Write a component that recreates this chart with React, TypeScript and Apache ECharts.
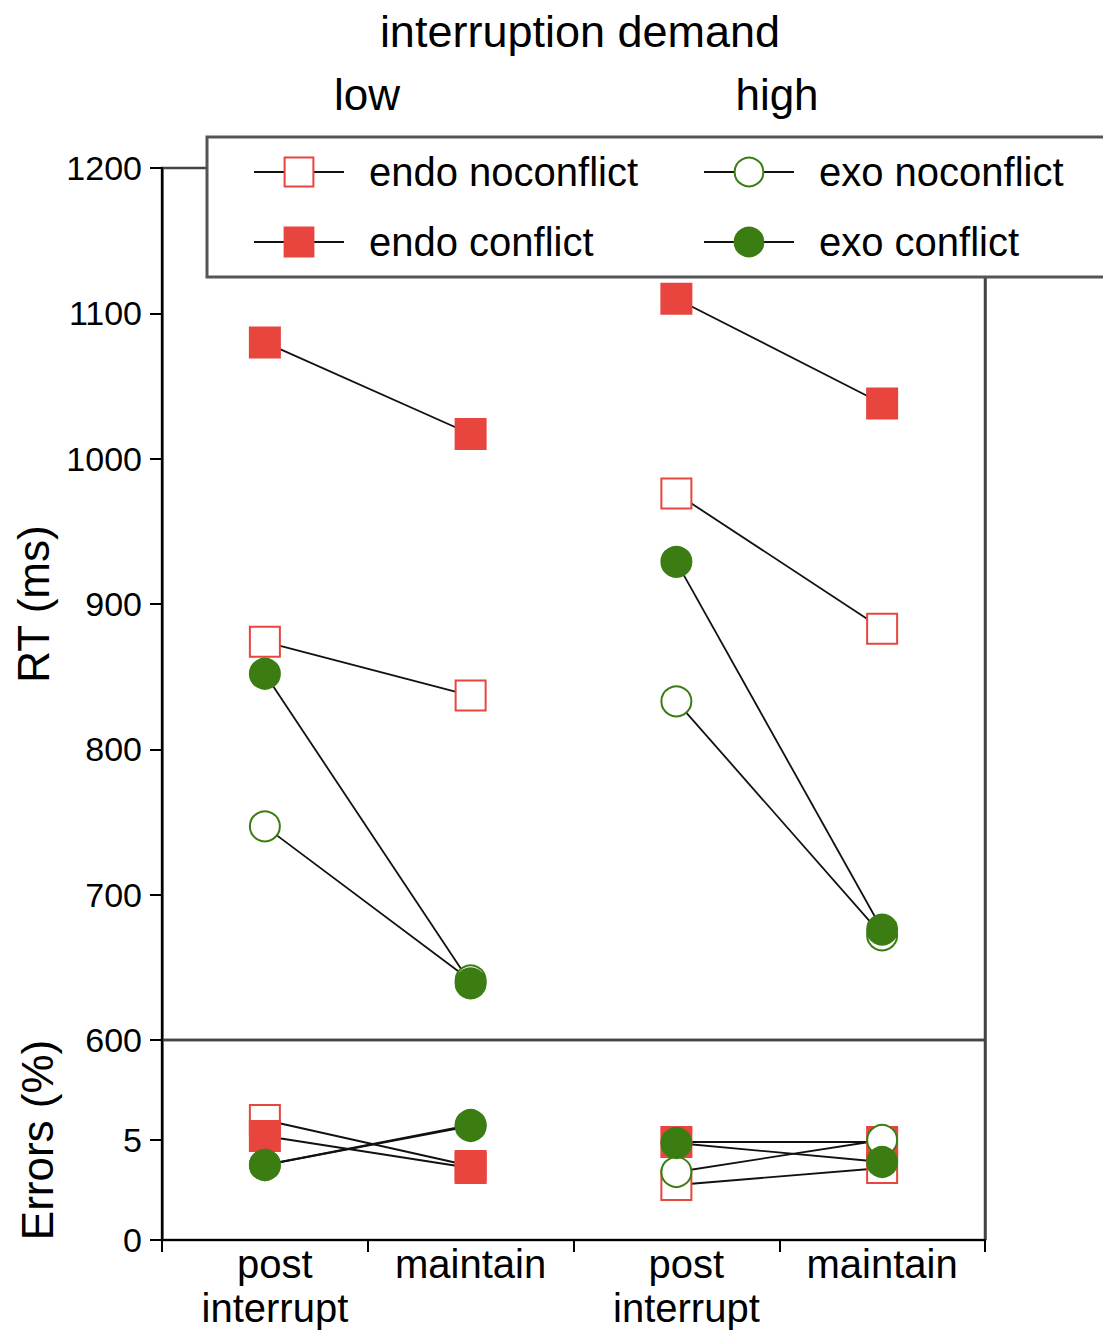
import React, { useEffect, useRef } from "react";
import * as echarts from "echarts";

const categories = ["post\ninterrupt", "maintain", "post\ninterrupt", "maintain"];
const panels = ["low", "high"];
const conditions = ["endo noconflict", "endo conflict", "exo noconflict", "exo conflict"];

// values: [low post, low maintain, high post, high maintain]
const rtEndoNoconflict = [874, 837, 976, 883];
const rtEndoConflict = [1080, 1017, 1110, 1038];
const rtExoNoconflict = [747, 641, 833, 672];
const rtExoConflict = [852, 639, 929, 676];

const errEndoNoconflict = [6.0, 3.7, 2.75, 3.6];
const errEndoConflict = [5.2, 3.6, 4.9, 4.9];
const errExoNoconflict = [3.75, 5.7, 3.4, 5.0];
const errExoConflict = [3.75, 5.75, 4.85, 3.9];

const rtTicks = { min: 600, max: 1200, interval: 100 };
const errTicks = { min: 0, max: 10, interval: 5 };

const RED = "#e8453f";
const GREEN = "#3b7d12";
const FONT = "'Liberation Sans', Arial, Helvetica, sans-serif";

const styles: Record<string, { symbol: string; color: string }> = {
  "endo noconflict": { symbol: "emptyRect", color: RED },
  "endo conflict": { symbol: "rect", color: RED },
  "exo noconflict": { symbol: "emptyCircle", color: GREEN },
  "exo conflict": { symbol: "circle", color: GREEN },
};

const rtData: Record<string, number[]> = {
  "endo noconflict": rtEndoNoconflict,
  "endo conflict": rtEndoConflict,
  "exo noconflict": rtExoNoconflict,
  "exo conflict": rtExoConflict,
};
const errData: Record<string, number[]> = {
  "endo noconflict": errEndoNoconflict,
  "endo conflict": errEndoConflict,
  "exo noconflict": errExoNoconflict,
  "exo conflict": errExoConflict,
};

function buildSeries(dataMap: Record<string, number[]>, axisIndex: number) {
  const out: any[] = [];
  panels.forEach((_, p) => {
    conditions.forEach((name) => {
      const vals = dataMap[name];
      const data = vals.map((v, i) => (Math.floor(i / 2) === p ? v : null));
      const st = styles[name];
      out.push({
        name,
        type: "line",
        xAxisIndex: axisIndex,
        yAxisIndex: axisIndex,
        data,
        connectNulls: false,
        symbol: st.symbol,
        symbolSize: 30,
        showAllSymbol: true,
        lineStyle: { color: "#111", width: 1.8 },
        itemStyle: { color: st.color, borderColor: st.color, borderWidth: 2 },
        emphasis: { disabled: true },
      });
    });
  });
  return out;
}

export default function App() {
  const ref = useRef<HTMLDivElement>(null);
  useEffect(() => {
    document.body.style.margin = "0";
    if (!ref.current) return;
    const chart = echarts.init(ref.current, undefined, { renderer: "svg" });
    const legendPos = [
      { name: "endo noconflict", left: 253, top: 152 },
      { name: "exo noconflict", left: 703, top: 152 },
      { name: "endo conflict", left: 253, top: 222 },
      { name: "exo conflict", left: 703, top: 222 },
    ];
    const catData = categories.map((c) =>
      c.indexOf("\n") >= 0 ? { value: c, textStyle: { padding: [0, 0, 0, 20] } } : c
    );
    const option: any = {
      animation: false,
      textStyle: { fontFamily: FONT, color: "#000" },
      grid: [
        { left: 162, top: 168, width: 823, height: 872, show: true, borderColor: "#444", borderWidth: 2.5, backgroundColor: "transparent", outerBoundsMode: "none", containLabel: false },
        { left: 162, top: 1040, width: 823, height: 200, show: true, borderColor: "#444", borderWidth: 2.5, backgroundColor: "transparent", outerBoundsMode: "none", containLabel: false },
      ],
      legend: legendPos.map((l) => ({
        data: [l.name],
        left: l.left,
        top: l.top,
        padding: 0,
        itemWidth: 90,
        itemHeight: 36,
        selectedMode: false,
        z: 200,
        textStyle: { fontSize: 40, fontFamily: FONT, color: "#000", padding: [0, 0, 0, 20] },
      })),
      xAxis: [
        {
          type: "category",
          gridIndex: 0,
          data: categories,
          boundaryGap: true,
          axisLine: { show: false },
          axisTick: { show: false },
          axisLabel: { show: false },
          splitLine: { show: true, interval: (i: number) => i === 2, lineStyle: { color: "#444", width: 2.5 } },
        },
        {
          type: "category",
          gridIndex: 1,
          data: catData,
          boundaryGap: true,
          axisLine: { show: true, lineStyle: { color: "#000", width: 2 } },
          axisTick: { show: true, length: 12, lineStyle: { color: "#000", width: 2 } },
          axisLabel: { show: true, interval: 0, fontSize: 40, lineHeight: 44, margin: 2, color: "#000", fontFamily: FONT },
          splitLine: { show: true, interval: (i: number) => i === 2, lineStyle: { color: "#444", width: 2.5 } },
        },
      ],
      yAxis: [
        {
          type: "value",
          gridIndex: 0,
          min: rtTicks.min,
          max: rtTicks.max,
          interval: rtTicks.interval,
          name: "RT (ms)",
          nameLocation: "middle",
          nameGap: 103,
          nameTextStyle: { fontSize: 44, color: "#000", fontFamily: FONT },
          axisLine: { show: true, lineStyle: { color: "#000", width: 2 } },
          axisTick: { show: true, length: 12, lineStyle: { color: "#000", width: 2 } },
          axisLabel: { fontSize: 34, color: "#000", margin: 20, fontFamily: FONT, formatter: (v: number) => String(v) },
          splitLine: { show: false },
        },
        {
          type: "value",
          gridIndex: 1,
          min: errTicks.min,
          max: errTicks.max,
          interval: errTicks.interval,
          name: "Errors (%)",
          nameLocation: "middle",
          nameGap: 103,
          nameTextStyle: { fontSize: 44, color: "#000", fontFamily: FONT },
          axisLine: { show: true, lineStyle: { color: "#000", width: 2 } },
          axisTick: { show: true, length: 12, lineStyle: { color: "#000", width: 2 } },
          axisLabel: { fontSize: 34, color: "#000", margin: 20, showMaxLabel: false, fontFamily: FONT, formatter: (v: number) => String(v) },
          splitLine: { show: false },
        },
      ],
      graphic: [
        {
          type: "rect",
          z: 150,
          shape: { x: 207, y: 137, width: 905, height: 140 },
          style: { fill: "#fff", stroke: "#555", lineWidth: 3 },
        },
        {
          type: "text",
          x: 580,
          y: 31,
          style: { text: "interruption demand", font: `45px ${FONT}`, fill: "#000", textAlign: "center", textVerticalAlign: "middle" },
        },
        {
          type: "text",
          x: 367,
          y: 94,
          style: { text: "low", font: `44px ${FONT}`, fill: "#000", textAlign: "center", textVerticalAlign: "middle" },
        },
        {
          type: "text",
          x: 777,
          y: 94,
          style: { text: "high", font: `44px ${FONT}`, fill: "#000", textAlign: "center", textVerticalAlign: "middle" },
        },
      ],
      series: [...buildSeries(rtData, 0), ...buildSeries(errData, 1)],
    };
    chart.setOption(option);
    return () => chart.dispose();
  }, []);
  return <div ref={ref} style={{ width: 1103, height: 1339 }} />;
}
